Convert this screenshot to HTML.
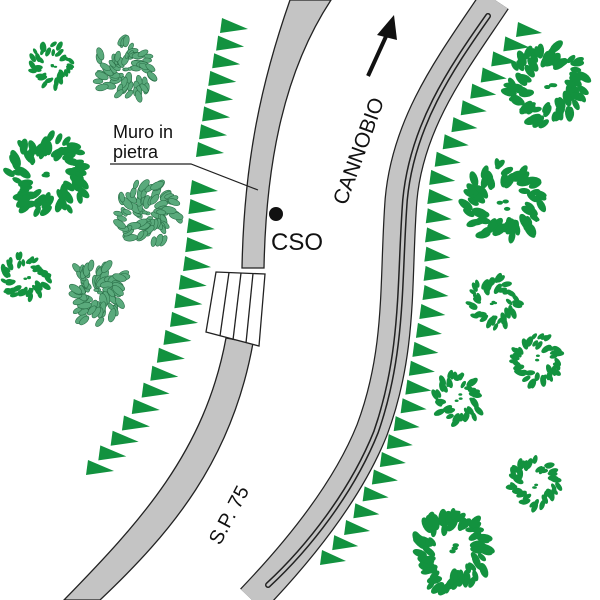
<!DOCTYPE html>
<html><head><meta charset="utf-8"><style>html,body{margin:0;padding:0;background:#fff}svg{display:block}</style></head>
<body>
<svg id="s" width="600" height="600" viewBox="0 0 600 600" xmlns="http://www.w3.org/2000/svg">
<rect width="600" height="600" fill="#fff"/>
<g id="trees"></g>
<g id="tri" fill="#12923f"></g>
<path d="M290,0 C262,80 244,160 242,268 L264,268 C266,160 285,70 331,0 Z" fill="#c4c4c4" stroke="#222" stroke-width="1.3"/>
<path d="M226,338 L253,343 C232,460 172,532 100,600 L64,600 C140,522 205,452 226,338 Z" fill="#c4c4c4" stroke="#222" stroke-width="1.3"/>
<g fill="#fff" stroke="#222" stroke-width="1.3">
<path d="M216,272 L265,274 L259,346 L206,332 Z"/>
<line x1="229" y1="272.5" x2="220" y2="336"/>
<line x1="241" y1="273" x2="233" y2="340"/>
<line x1="253" y1="273.5" x2="246" y2="343"/>
</g>
<path d="M495,0 C455,60 408,120 401,200 C395,280 402,350 372,430 C348,490 300,550 252,600" fill="none" stroke="#222" stroke-width="33"/>
<path d="M495,0 C455,60 408,120 401,200 C395,280 402,350 372,430 C348,490 300,550 252,600" fill="none" stroke="#c4c4c4" stroke-width="30.5"/>
<path d="M488,16 C450,70 412,126 405,200 C399,280 404,352 376,432 C352,492 308,548 268,585" fill="none" stroke="#222" stroke-width="6" stroke-linecap="round"/>
<path d="M488,16 C450,70 412,126 405,200 C399,280 404,352 376,432 C352,492 308,548 268,585" fill="none" stroke="#c4c4c4" stroke-width="3" stroke-linecap="round"/>
<line x1="368" y1="76" x2="388" y2="32" stroke="#111" stroke-width="4"/>
<polygon points="394,15 377,35 397,40" fill="#111"/>
<polyline points="110,164 191,164 258,190" fill="none" stroke="#222" stroke-width="1.2"/>
<circle cx="276" cy="214" r="7" fill="#111"/>
<g font-family="Liberation Sans, sans-serif" fill="#111">
<text x="113" y="138" font-size="18">Muro in</text>
<text x="113" y="158" font-size="18">pietra</text>
<text x="271" y="250" font-size="24">CSO</text>
<text transform="translate(346,206) rotate(-70)" font-size="21">CANNOBIO</text>
<text transform="translate(220,546) rotate(-62)" font-size="20">S.P. 75</text>
</g>
</svg>
<script>
(function(){
var NS="http://www.w3.org/2000/svg";
var tri=document.getElementById("tri");
function row(pts,len){
  for(var i=0;i<pts.length;i++){
    var x=pts[i][0],y=pts[i][1];
    var p=document.createElementNS(NS,"polygon");
    p.setAttribute("points",(x)+","+(y-8)+" "+(x-2)+","+(y+7)+" "+(x+len)+","+(y+3));
    tri.appendChild(p);
  }
}
function interp(ctrl,n){
  var segs=[],tot=0;
  for(var i=1;i<ctrl.length;i++){var dx=ctrl[i][0]-ctrl[i-1][0],dy=ctrl[i][1]-ctrl[i-1][1];var l=Math.hypot(dx,dy);segs.push(l);tot+=l;}
  var out=[];
  for(var k=0;k<n;k++){
    var d=tot*k/(n-1),j=0;
    while(j<segs.length-1&&d>segs[j]){d-=segs[j];j++;}
    var t=Math.min(1,d/segs[j]);
    out.push([ctrl[j][0]+(ctrl[j+1][0]-ctrl[j][0])*t,ctrl[j][1]+(ctrl[j+1][1]-ctrl[j][1])*t]);
  }
  return out;
}
row(interp([[222,26],[210,80],[198,150]],8),26);
row(interp([[192,188],[186,260],[172,320],[150,380],[120,430],[88,468]],17),26);
row(interp([[518,30],[496,55],[470,95],[448,135],[432,170],[428,210],[425,290],[420,320],[405,400],[378,470],[345,530],[322,558]],31),24);

var trees=document.getElementById("trees");
var list=[[52,65,22,0],[125,70,30,1],[48,175,40,0],[148,213,32,1],[25,278,24,0],[98,292,32,1],
[548,85,40,0],[505,203,40,0],[494,302,25,0],[537,360,25,0],[458,398,25,0],[535,483,25,0],[452,552,40,0]];
var seed=7;function rnd(){seed=(seed*9301+49297)%233280;return seed/233280;}
list.forEach(function(t){
  var cx=t[0],cy=t[1],r=t[2],light=t[3];
  var n=Math.round(r*(light?2.2:1.7));
  var g=document.createElementNS(NS,"g");
  g.setAttribute("fill",light?"#5aaa7c":"#13923f");
  if(light){g.setAttribute("stroke","#2a7048");g.setAttribute("stroke-width","0.6");}
  for(var i=0;i<n;i++){
    var a=i/n*Math.PI*2+rnd()*0.3;
    var rr=r*(light?0.3+0.7*rnd():0.55+0.45*rnd());
    var x=cx+Math.cos(a)*rr,y=cy+Math.sin(a)*rr;
    var e=document.createElementNS(NS,"ellipse");
    var s=r*(0.06+0.06*rnd())+1;
    e.setAttribute("cx",x.toFixed(1));e.setAttribute("cy",y.toFixed(1));
    e.setAttribute("rx",(s*1.5).toFixed(1));e.setAttribute("ry",(s*0.75).toFixed(1));
    e.setAttribute("transform","rotate("+(a*180/Math.PI+60*rnd()).toFixed(0)+" "+x.toFixed(1)+" "+y.toFixed(1)+")");
    g.appendChild(e);
  }
  for(var k=0;k<3;k++){
    var a2=rnd()*6.28,r2=r*0.2*rnd();
    var e2=document.createElementNS(NS,"ellipse");
    e2.setAttribute("cx",cx+Math.cos(a2)*r2);e2.setAttribute("cy",cy+Math.sin(a2)*r2);
    e2.setAttribute("rx",r*0.08);e2.setAttribute("ry",r*0.05);
    g.appendChild(e2);
  }
  trees.appendChild(g);
});
})();
</script>
</body></html>
